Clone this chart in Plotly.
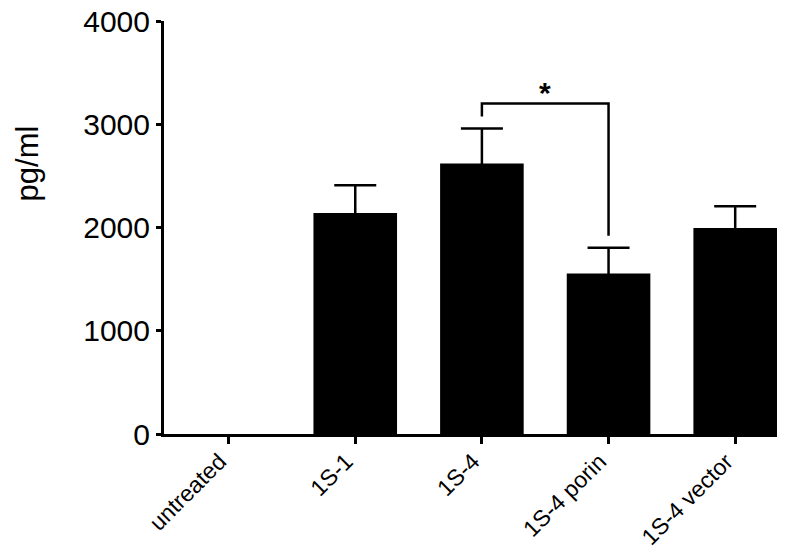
import plotly.graph_objects as go

# chart data (untreated is below detection, drawn as no bar)
groups = ["untreated", "1S-1", "1S-4", "1S-4 porin", "1S-4 vector"]
means = [None, 2140, 2620, 1555, 1995]
sem = [None, 268, 338, 250, 210]

# significance bracket between 1S-4 and 1S-4 porin
sig_x = ["1S-4", "1S-4", "1S-4 porin", "1S-4 porin"]
sig_y = [3075, 3200, 3200, 1920]
sig_label = "<b>*</b>"
sig_label_y = 3310

yticks = [0, 1000, 2000, 3000, 4000]

fnt = "Liberation Sans, Arial, sans-serif"

fig = go.Figure()
fig.add_trace(go.Bar(
    x=groups, y=means, width=0.66,
    marker=dict(color="black", line=dict(width=0)),
    error_y=dict(type="data", array=sem, symmetric=True,
                 color="black", thickness=2.5, width=21),
    showlegend=False,
))
fig.add_trace(go.Scatter(
    x=sig_x, y=sig_y, mode="lines",
    line=dict(color="black", width=2.5), showlegend=False, hoverinfo="skip",
))
fig.add_annotation(x=2.5, y=sig_label_y, text=sig_label, showarrow=False,
                   font=dict(family=fnt, size=30, color="black"))
fig.add_annotation(text="pg/ml", xref="paper", yref="paper", x=-0.222, y=0.655,
                   xanchor="center", yanchor="middle",
                   textangle=-90, showarrow=False,
                   font=dict(family=fnt, size=31, color="black"))

# page body has an 8px margin, so the figure is sized to fit inside the window
fig.update_layout(
    width=792, height=544,
    margin=dict(l=156, r=23, t=13, b=118),
    paper_bgcolor="white", plot_bgcolor="white",
    font=dict(family=fnt, color="black"),
    xaxis=dict(
        range=[-0.51, 4.33], showline=True, linecolor="black", linewidth=3,
        ticks="outside", tickcolor="black", ticklen=7, tickwidth=2.5,
        tickangle=-45, tickfont=dict(size=23), showgrid=False, zeroline=False,
        automargin=False, ticklabelshift=-9, ticklabelstandoff=-5,
    ),
    yaxis=dict(
        range=[0, 4000], tickvals=yticks, showline=True, linecolor="black",
        linewidth=3, ticks="outside", tickcolor="black", ticklen=5, tickwidth=2.5,
        tickfont=dict(size=30), showgrid=False, zeroline=False, automargin=False,
        ticklabeloverflow="allow",
    ),
)

fig.write_html("out.html")
